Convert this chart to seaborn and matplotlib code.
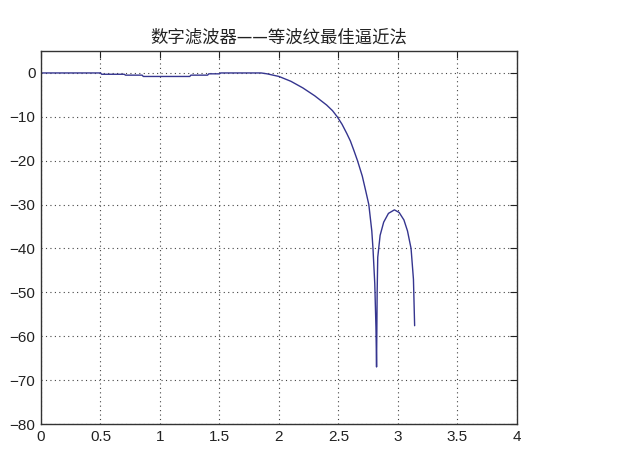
import numpy as np
import pandas as pd
import matplotlib
matplotlib.use("Agg")
import matplotlib.pyplot as plt
import seaborn as sns

# Frequency (rad) and magnitude (dB)
freq = [0, 0.5, 0.51, 0.70, 0.71, 0.85, 0.86, 1.25, 1.26, 1.40, 1.41, 1.50, 1.51,
        1.85, 1.90, 2.00, 2.10, 2.20, 2.30, 2.40, 2.45, 2.49, 2.53, 2.57, 2.60,
        2.63, 2.66, 2.70, 2.73, 2.755, 2.78, 2.79, 2.805, 2.815, 2.82, 2.825,
        2.83, 2.85, 2.88, 2.92, 2.97, 3.01, 3.05, 3.08, 3.11, 3.13, 3.14]
mag_db = [0, 0, -0.3, -0.3, -0.5, -0.5, -0.8, -0.8, -0.5, -0.5, -0.2, -0.2, 0,
          0, -0.2, -0.8, -1.9, -3.4, -5.2, -7.3, -8.6, -10, -11.7, -13.8, -15.5,
          -17.7, -20, -23.5, -27, -30, -36, -40, -48, -58, -67, -50,
          -42, -37, -34, -32, -31.2, -31.8, -33.5, -36, -40, -47, -57.6]

title = "数字滤波器——等波纹最佳逼近法"
xticks = [0, 0.5, 1, 1.5, 2, 2.5, 3, 3.5, 4]
xlabels = ["0", "0.5", "1", "1.5", "2", "2.5", "3", "3.5", "4"]
yticks = [0, -10, -20, -30, -40, -50, -60, -70, -80]

df = pd.DataFrame({"w": freq, "H": mag_db})

sns.set_style("white")
plt.rcParams["font.family"] = ["Liberation Sans", "DejaVu Sans"]

fig = plt.figure(figsize=(6.23, 4.68), dpi=100)
ax = fig.add_axes([0.0658, 0.094, 0.764, 0.797])

sns.lineplot(data=df, x="w", y="H", ax=ax, color="#35358f", linewidth=1.0,
             estimator=None, sort=False)

ax.set_xlim(0, 4)
ax.set_ylim(-80, 5)
ax.set_xticks(xticks)
ax.set_xticklabels(xlabels)
ax.set_yticks(yticks)
ax.set_xlabel("")
ax.set_ylabel("")
ax.tick_params(direction="in", length=5, width=0.8, top=True, right=True,
               labelsize=11, colors="#222222", pad=4)
ax.grid(True, linestyle=(0, (1, 3)), color="#444444", linewidth=0.8)
for s in ax.spines.values():
    s.set_color("#333333")
    s.set_linewidth(1.0)

ax.set_title(title, family=["Noto Sans CJK SC", "DejaVu Sans"], fontsize=12.5,
             color="#222222", pad=6)

fig.savefig("out.png", dpi=100)
